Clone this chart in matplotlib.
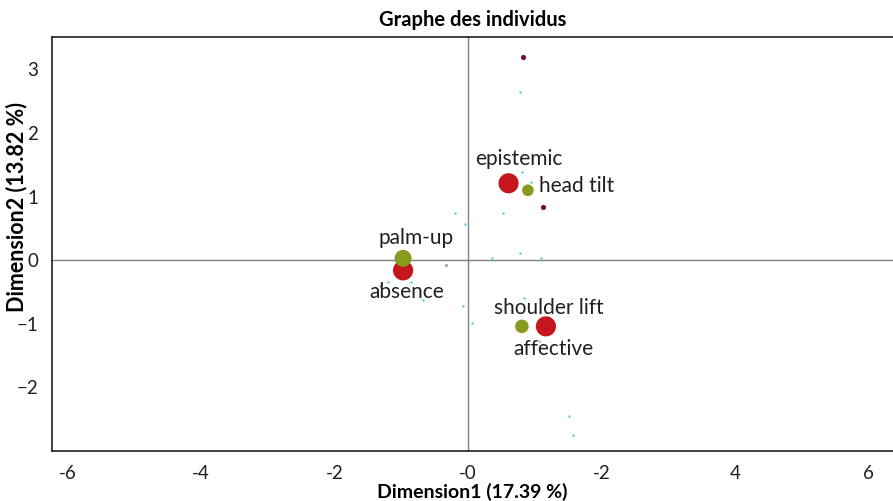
import matplotlib.pyplot as plt

plt.rcParams['font.family'] = ['Lato', 'DejaVu Sans']

# categories (supplementary / active modalities)
cat_names = ["epistemic", "absence", "affective", "head tilt", "palm-up", "shoulder lift"]
cat_x = [0.61, -0.97, 1.17, 0.90, -0.97, 0.81]
cat_y = [1.21, -0.16, -1.04, 1.10, 0.03, -1.04]
cat_size = [210, 210, 210, 70, 150, 95]
cat_color = ["#c4161c", "#c4161c", "#c4161c", "#8a9a1e", "#8a9a1e", "#8a9a1e"]

# individuals
ind_x = [0.78, 0.81, 0.94, -0.19, -0.04, 0.52, 0.36, 0.78, 1.09,
         -1.32, -1.20, -0.85, -0.67, -0.07, 0.06, 0.84, 1.06, 1.51, 1.57]
ind_y = [2.64, 1.38, 1.23, 0.75, 0.57, 0.74, 0.03, 0.11, 0.03,
         -0.41, -0.35, -0.35, -0.63, -0.72, -0.99, -0.60, -1.27, -2.45, -2.75]
dark_x = [0.82, 1.12]
dark_y = [3.19, 0.83]
grey_x = [-0.33]
grey_y = [-0.08]

xticks = [-6, -4, -2, 0, 2, 4, 6]
xtick_labels = ["-6", "-4", "-2", "-0", "-2", "4", "6"]
yticks = [-2, -1, 0, 1, 2, 3]

fig = plt.figure(figsize=(8.93, 5.01), dpi=100)
ax = fig.add_axes([52 / 893, 50 / 501, 1 - 52 / 893, 414 / 501])

ax.axhline(0, color="#808080", lw=1, zorder=0)
ax.axvline(0, color="#808080", lw=1, zorder=0)

ax.scatter(ind_x, ind_y, s=3, color="#5bc4ea", lw=0)
ax.scatter(dark_x, dark_y, s=14, color="#7a0a3c", lw=0)
ax.scatter(grey_x, grey_y, s=6, color="#aaaaaa", lw=0)
ax.scatter(cat_x, cat_y, s=cat_size, color=cat_color, lw=0, zorder=3)

# labels
lab = dict(fontsize=15, color="#231f20")
ax.text(cat_x[0] + 0.15, cat_y[0] + 0.22, "epistemic", ha="center", va="bottom", **lab)
ax.text(cat_x[3] + 0.17, cat_y[3] + 0.07, "head tilt", ha="left", va="center", **lab)
ax.text(cat_x[4] + 0.2, cat_y[4] + 0.16, "palm-up", ha="center", va="bottom", **lab)
ax.text(cat_x[1] + 0.06, cat_y[1] - 0.19, "absence", ha="center", va="top", **lab)
ax.text(cat_x[5] + 0.41, cat_y[5] + 0.13, "shoulder lift", ha="center", va="bottom", **lab)
ax.text(cat_x[2] + 0.11, cat_y[2] - 0.2, "affective", ha="center", va="top", **lab)

ax.set_xlim(-6.23, 6.37)
ax.set_ylim(-3.0, 3.51)
ax.set_xticks(xticks)
ax.set_xticklabels(xtick_labels)
ax.set_yticks(yticks)
ax.tick_params(length=0, labelsize=13.5, colors="#231f20", pad=10)
for s in ["left", "bottom", "top"]:
    ax.spines[s].set_color("#231f20")
    ax.spines[s].set_linewidth(1.2)
ax.spines["right"].set_visible(False)

ax.set_title("Graphe des individus", fontsize=14.5, fontweight="bold", pad=8)
ax.set_xlabel("Dimension1 (17.39 %)", fontsize=14, fontweight="bold", labelpad=1)
ax.set_ylabel("Dimension2 (13.82 %)", fontsize=15.5, fontweight="bold")
ax.yaxis.set_label_coords(-25 / 841, 0.589)

fig.savefig("out.png", dpi=100)
